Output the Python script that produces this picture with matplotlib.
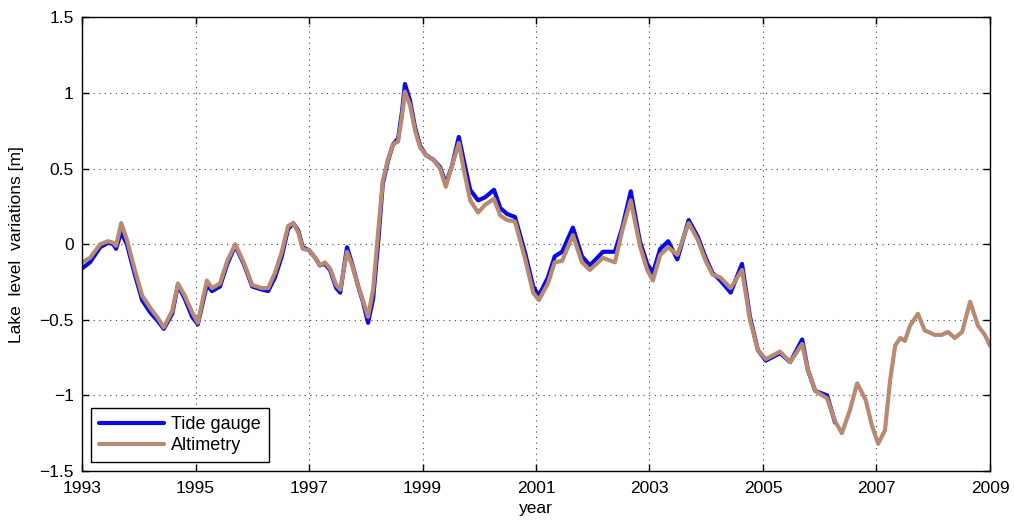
import numpy as np
import matplotlib
matplotlib.use("Agg")
import matplotlib.pyplot as plt

plt.rcParams['font.family'] = ['Liberation Sans', 'DejaVu Sans']

# time axis (decimal years)
years = [1993.00, 1993.14, 1993.32, 1993.46, 1993.55, 1993.60, 1993.69, 1993.79,
         1993.93, 1994.06, 1994.20, 1994.34, 1994.44, 1994.59, 1994.69, 1994.81,
         1994.94, 1995.04, 1995.20, 1995.29, 1995.43, 1995.56, 1995.70, 1995.85,
         1996.00, 1996.17, 1996.28, 1996.40, 1996.52, 1996.63, 1996.72, 1996.81,
         1996.89, 1997.00, 1997.11, 1997.19, 1997.28, 1997.37, 1997.48, 1997.55,
         1997.67, 1997.76, 1997.86, 1997.95, 1998.04, 1998.13, 1998.22, 1998.30,
         1998.39, 1998.48, 1998.57, 1998.64, 1998.69, 1998.78, 1998.87, 1998.96,
         1999.06, 1999.19, 1999.31, 1999.41, 1999.52, 1999.64, 1999.73, 1999.84,
         1999.98, 2000.10, 2000.26, 2000.37, 2000.49, 2000.63, 2000.81, 2000.95,
         2001.05, 2001.21, 2001.33, 2001.46, 2001.65, 2001.81, 2001.95, 2002.18,
         2002.39, 2002.52, 2002.67, 2002.83, 2002.96, 2003.06, 2003.19, 2003.33,
         2003.49, 2003.69, 2003.85, 2003.99, 2004.11, 2004.25, 2004.43, 2004.63,
         2004.77, 2004.91, 2005.05, 2005.30, 2005.48, 2005.69, 2005.79, 2005.92,
         2006.13, 2006.27, 2006.39, 2006.53, 2006.66, 2006.81, 2006.92, 2007.03,
         2007.15, 2007.24, 2007.33, 2007.42, 2007.50, 2007.59, 2007.73, 2007.85,
         2008.03, 2008.15, 2008.26, 2008.38, 2008.51, 2008.65, 2008.79, 2008.91,
         2009.00]

altimetry = [-0.12, -0.09, 0.00, 0.02, 0.01, -0.01, 0.14, 0.03,
             -0.17, -0.34, -0.42, -0.49, -0.55, -0.44, -0.26, -0.34,
             -0.45, -0.52, -0.24, -0.29, -0.26, -0.11, 0.00, -0.12,
             -0.27, -0.29, -0.29, -0.19, -0.05, 0.12, 0.14, 0.08,
             -0.03, -0.04, -0.09, -0.14, -0.12, -0.16, -0.27, -0.30,
             -0.05, -0.14, -0.27, -0.37, -0.48, -0.30, 0.09, 0.42,
             0.56, 0.66, 0.68, 0.85, 1.01, 0.92, 0.75, 0.64,
             0.59, 0.56, 0.50, 0.38, 0.52, 0.67, 0.49, 0.29,
             0.21, 0.26, 0.30, 0.19, 0.16, 0.15, -0.10, -0.32,
             -0.37, -0.26, -0.12, -0.11, 0.06, -0.12, -0.17, -0.09,
             -0.12, 0.09, 0.29, -0.01, -0.17, -0.24, -0.07, -0.02,
             -0.07, 0.14, 0.03, -0.11, -0.20, -0.22, -0.29, -0.17,
             -0.50, -0.70, -0.76, -0.71, -0.78, -0.66, -0.83, -0.97,
             -1.02, -1.17, -1.25, -1.10, -0.92, -1.03, -1.20, -1.32,
             -1.23, -0.90, -0.67, -0.62, -0.64, -0.54, -0.46, -0.57,
             -0.60, -0.60, -0.58, -0.62, -0.58, -0.38, -0.54, -0.60,
             -0.67]

# tide gauge record stops in 2006
tide_gauge = [-0.16, -0.12, -0.02, 0.01, 0.00, -0.03, 0.08, 0.00,
              -0.20, -0.37, -0.45, -0.51, -0.56, -0.46, -0.27, -0.36,
              -0.48, -0.53, -0.27, -0.31, -0.28, -0.13, -0.01, -0.13,
              -0.28, -0.30, -0.31, -0.22, -0.08, 0.10, 0.14, 0.09,
              -0.02, -0.04, -0.09, -0.14, -0.13, -0.17, -0.29, -0.32,
              -0.02, -0.13, -0.27, -0.38, -0.52, -0.36, 0.02, 0.40,
              0.55, 0.66, 0.70, 0.88, 1.06, 0.95, 0.77, 0.65,
              0.59, 0.56, 0.51, 0.40, 0.52, 0.71, 0.55, 0.36,
              0.29, 0.31, 0.36, 0.24, 0.20, 0.18, -0.06, -0.28,
              -0.34, -0.22, -0.08, -0.05, 0.11, -0.08, -0.14, -0.05,
              -0.05, 0.11, 0.35, 0.02, -0.13, -0.19, -0.03, 0.02,
              -0.10, 0.16, 0.05, -0.09, -0.19, -0.24, -0.32, -0.13,
              -0.48, -0.70, -0.77, -0.72, -0.78, -0.63, -0.83, -0.97,
              -1.00, -1.18]

fig = plt.figure(figsize=(10.14, 5.25), dpi=100)
ax = fig.add_axes([0.0809, 0.1029, 0.8954, 0.8638])

ax.plot(years[:len(tide_gauge)], tide_gauge, color='#0a0ae6', lw=3.0,
        label='Tide gauge', solid_capstyle='round', solid_joinstyle='round')
ax.plot(years, altimetry, color='#b98a72', lw=3.0, label='Altimetry',
        solid_capstyle='round', solid_joinstyle='round')

ax.set_xlim(1993, 2009)
ax.set_ylim(-1.5, 1.5)
ax.set_xticks(np.arange(1993, 2010, 2))
ax.set_yticks([-1.5, -1, -0.5, 0, 0.5, 1, 1.5])
ax.set_yticklabels(['\u22121.5', '\u22121', '\u22120.5', '0', '0.5', '1', '1.5'])
ax.tick_params(direction='in', top=True, right=True, length=5, labelsize=12.5, width=1)
ax.tick_params(axis='x', pad=7)
ax.tick_params(axis='y', pad=6)
ax.grid(True, linestyle=(0, (1, 4)), color='#444444', linewidth=0.8)
for s in ax.spines.values():
    s.set_linewidth(1.0)

ax.set_xlabel('year', fontsize=12.5, labelpad=4)
ax.set_ylabel('Lake  level  variations [m]', fontsize=12.5, labelpad=11)

leg = ax.legend(loc='lower left', fontsize=13, fancybox=False, framealpha=1,
                edgecolor='black', borderpad=0.45, handlelength=3.6,
                handletextpad=0.4, labelspacing=0.22, borderaxespad=0,
                bbox_to_anchor=(0.0099, 0.019))
leg.get_frame().set_linewidth(1.0)

fig.savefig('out.png', dpi=100)
